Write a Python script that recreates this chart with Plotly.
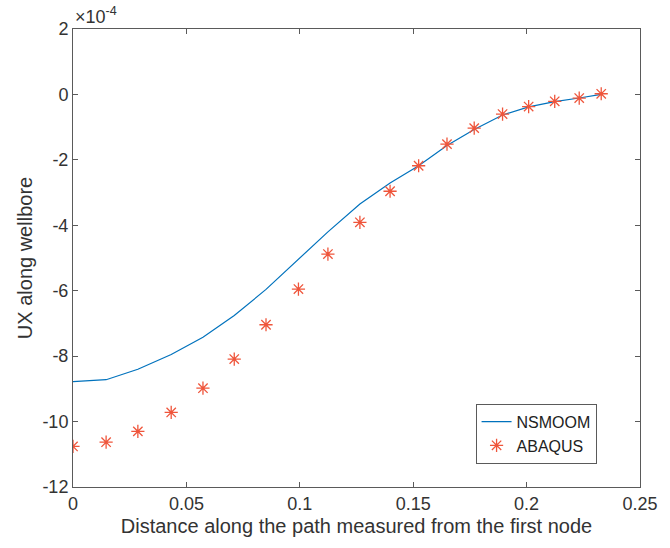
import plotly.graph_objects as go

# Horizontal displacement along the wellbore path (values in units of 1e-4)
SCALE = 1e-4

abaqus_x = [0.0, 0.0146, 0.0286, 0.0433, 0.0573, 0.0711, 0.0851, 0.0994, 0.1124,
            0.1265, 0.1398, 0.1524, 0.1649, 0.1769, 0.1894, 0.2009, 0.2124, 0.2232, 0.2329]
abaqus_ux = [-10.76, -10.63, -10.30, -9.72, -8.98, -8.09, -7.04, -5.95, -4.88,
             -3.91, -2.96, -2.18, -1.52, -1.03, -0.60, -0.37, -0.21, -0.11, 0.02]

nsmoom_x = abaqus_x
nsmoom_ux = [-8.78, -8.72, -8.40, -7.95, -7.42, -6.76, -5.96, -5.05, -4.20,
             -3.35, -2.71, -2.18, -1.56, -1.07, -0.63, -0.38, -0.22, -0.11, 0.0]

y_ticks = [2, 0, -2, -4, -6, -8, -10, -12]
x_ticks = [0, 0.05, 0.1, 0.15, 0.2, 0.25]

FONT = "Liberation Sans, Arial, sans-serif"
AXIS_COLOR = "#5a5a5a"
TEXT_COLOR = "#333333"

fig = go.Figure()
fig.add_trace(go.Scatter(
    x=nsmoom_x, y=[v * SCALE for v in nsmoom_ux],
    mode="lines", name="NSMOOM",
    line=dict(color="#0072BD", width=1.2),
))
fig.add_trace(go.Scatter(
    x=abaqus_x, y=[v * SCALE for v in abaqus_ux],
    mode="markers", name="ABAQUS",
    marker=dict(symbol="asterisk-open", size=11,
                line=dict(color="#D95319", width=1.3)),
))

axis_common = dict(
    showline=True, linecolor=AXIS_COLOR, linewidth=1, mirror="ticks",
    ticks="inside", ticklen=5, tickcolor=AXIS_COLOR, tickwidth=1,
    showgrid=False, zeroline=False,
    tickfont=dict(family=FONT, size=18, color=TEXT_COLOR),
)

fig.update_xaxes(
    range=[0, 0.25], tickvals=x_ticks,
    ticktext=[("%g" % t) for t in x_ticks],
    title=dict(text="Distance along the path measured from the first node",
               font=dict(family=FONT, size=20, color=TEXT_COLOR), standoff=6),
    **axis_common,
)
fig.update_yaxes(
    range=[-12 * SCALE, 2 * SCALE],
    tickvals=[t * SCALE for t in y_ticks],
    ticktext=[str(t) for t in y_ticks],
    title=dict(text="UX along wellbore",
               font=dict(family=FONT, size=20, color=TEXT_COLOR), standoff=4),
    **axis_common,
)

fig.add_annotation(
    xref="paper", yref="paper", x=0.0, y=1.0, xanchor="left", yanchor="bottom",
    text="×10<sup>-4</sup>", showarrow=False,
    font=dict(family=FONT, size=18, color=TEXT_COLOR),
)

fig.update_layout(
    width=670, height=548,
    margin=dict(l=73, r=18, t=29, b=61),
    paper_bgcolor="white", plot_bgcolor="white",
    showlegend=True,
    legend=dict(
        x=0.71, y=0.182, xanchor="left", yanchor="top",
        bgcolor="white", bordercolor=AXIS_COLOR, borderwidth=1,
        font=dict(family=FONT, size=16, color="#222222"),
        tracegroupgap=0,
    ),
)

fig.write_html("out.html")
